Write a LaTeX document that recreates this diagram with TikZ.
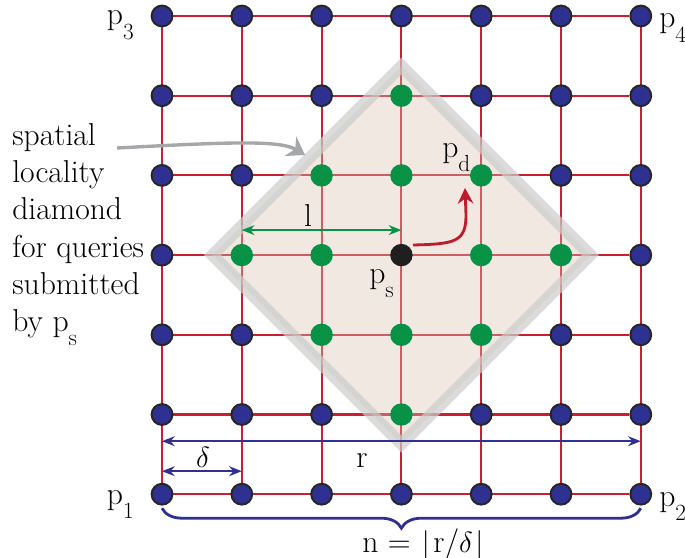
\documentclass[tikz,border=0pt]{standalone}
\usepackage{fontspec}
\usetikzlibrary{arrows.meta, decorations.pathreplacing, calc, backgrounds}
\definecolor{gridred}{RGB}{200, 32, 48}
\definecolor{nodeblue}{RGB}{46, 49, 146}
\definecolor{nodegreen}{RGB}{8, 146, 70}
\definecolor{diamondfill}{RGB}{215, 195, 175}
\definecolor{hintgray}{RGB}{165, 167, 170}
\definecolor{hopred}{RGB}{190, 28, 45}
\newcommand{\lowsub}[1]{\raisebox{-0.45em}{\fontsize{16.5}{16.5}\selectfont #1}}

\begin{document}
\begin{tikzpicture}[x=0.025cm, y=-0.025cm,
    every node/.style={font=\fontsize{22.5}{26.5}\selectfont, inner sep=0pt},
    bluept/.style={circle, draw=black!85, line width=1.4pt, fill=nodeblue, minimum size=0.52cm},
    greenpt/.style={circle, fill=nodegreen, minimum size=0.56cm},
    blackpt/.style={circle, fill=black!88, minimum size=0.56cm},
    gridline/.style={gridred, line width=1.5pt},
    measure/.style={{Stealth[length=9pt, width=7pt]}-{Stealth[length=9pt, width=7pt]}, line width=1.5pt}]
    \useasboundingbox (0,0) rectangle (685,558);

    % Grid of peers, the diamond around p_s is green
    \foreach \i in {0,...,6} {
      \foreach \j in {0,...,6} {
        \pgfmathtruncatemacro\hops{abs(\i-3)+abs(\j-3)}
        \ifnum\hops=0 \def\ptstyle{blackpt}\else
          \ifnum\hops<3 \def\ptstyle{greenpt}\else\def\ptstyle{bluept}\fi\fi
        \node[\ptstyle] (pt-\i-\j) at ({162+79.8*\i}, {16+79.7*\j}) {};
      }
    }

    % Grid lines and locality diamond behind the peers
    \begin{scope}[on background layer]
      \foreach \k in {0,...,6} {
        \draw[gridline] (pt-\k-0) -- (pt-\k-6);
        \draw[gridline] (pt-0-\k) -- (pt-6-\k);
      }
      \draw[draw=black!20, draw opacity=0.7, line width=8.5pt, fill=diamondfill, fill opacity=0.38]
        ($(pt-3-3)+(0,-189)$) -- ++(189,189) -- ++(-189,189) -- ++(-189,-189) -- cycle;
    \end{scope}

    % Corner labels
    \node[anchor=base east] (lab3) at (134,25) {p\lowsub{3}};
    \node[anchor=base west] (lab4) at (659,28) {p\lowsub{4}};
    \node[anchor=base east] (lab1) at (134,504) {p\lowsub{1}};
    \node[anchor=base west] (lab2) at (659,506) {p\lowsub{2}};
    \node[anchor=base west] (labd) at (442,157) {p\lowsub{d}};
    \node[anchor=base west] (labs) at (369,283) {p\lowsub{s}};

    % Side note
    \node[anchor=north west, align=left] (note) at (12,123)
      {spatial\\locality\\diamond\\for queries\\submitted\\by p\lowsub{s}};
    \coordinate (note-tail) at (117,148);
    \coordinate (note-head) at (305,155);
    \draw[hintgray, line width=2.4pt, -{Stealth[length=12pt, width=16pt]}]
      (note-tail) .. controls (230,142) and (280,140) .. (note-head);

    % Distance l from p_s
    \coordinate (l-left) at ($(pt-1-3)+(0,-25)$);
    \coordinate (l-right) at ($(pt-3-3)+(0,-25)$);
    \draw[measure, nodegreen] (l-left) -- (l-right);
    \node[anchor=base] (lab-l) at (308,226) {l};

    % Route from p_s towards p_d
    \coordinate (hop-start) at (413,245);
    \coordinate (hop-end) at (465,188);
    \draw[hopred, line width=2pt, -{Stealth[length=11pt, width=11pt]}]
      (hop-start) .. controls (455,244) and (466,242) .. (466,215) -- (hop-end);

    % Range r and spacing delta
    \coordinate (r-left) at ($(pt-0-6)+(0,-53)$);
    \coordinate (r-right) at ($(pt-6-6)+(0,-53)$);
    \draw[measure, nodeblue] (r-left) -- (r-right);
    \node[anchor=base] (lab-r) at (362,467) {r};
    \coordinate (d-left) at ($(pt-0-6)+(0,-23)$);
    \coordinate (d-right) at ($(pt-1-6)+(0,-23)$);
    \draw[measure, nodeblue] (d-left) -- (d-right);
    \node[anchor=base] (lab-delta) at (203,467) {$\delta$};

    % Number of peers per side
    \draw[nodeblue, line width=2pt, decorate, decoration={brace, mirror, amplitude=0.5cm}]
      ($(pt-0-6)+(0,14)$) -- ($(pt-6-6)+(0,14)$);
    \node[anchor=base] (lab-n) at (424,552) {n = $\lfloor$r/$\delta\rfloor$};
\end{tikzpicture}
\end{document}
